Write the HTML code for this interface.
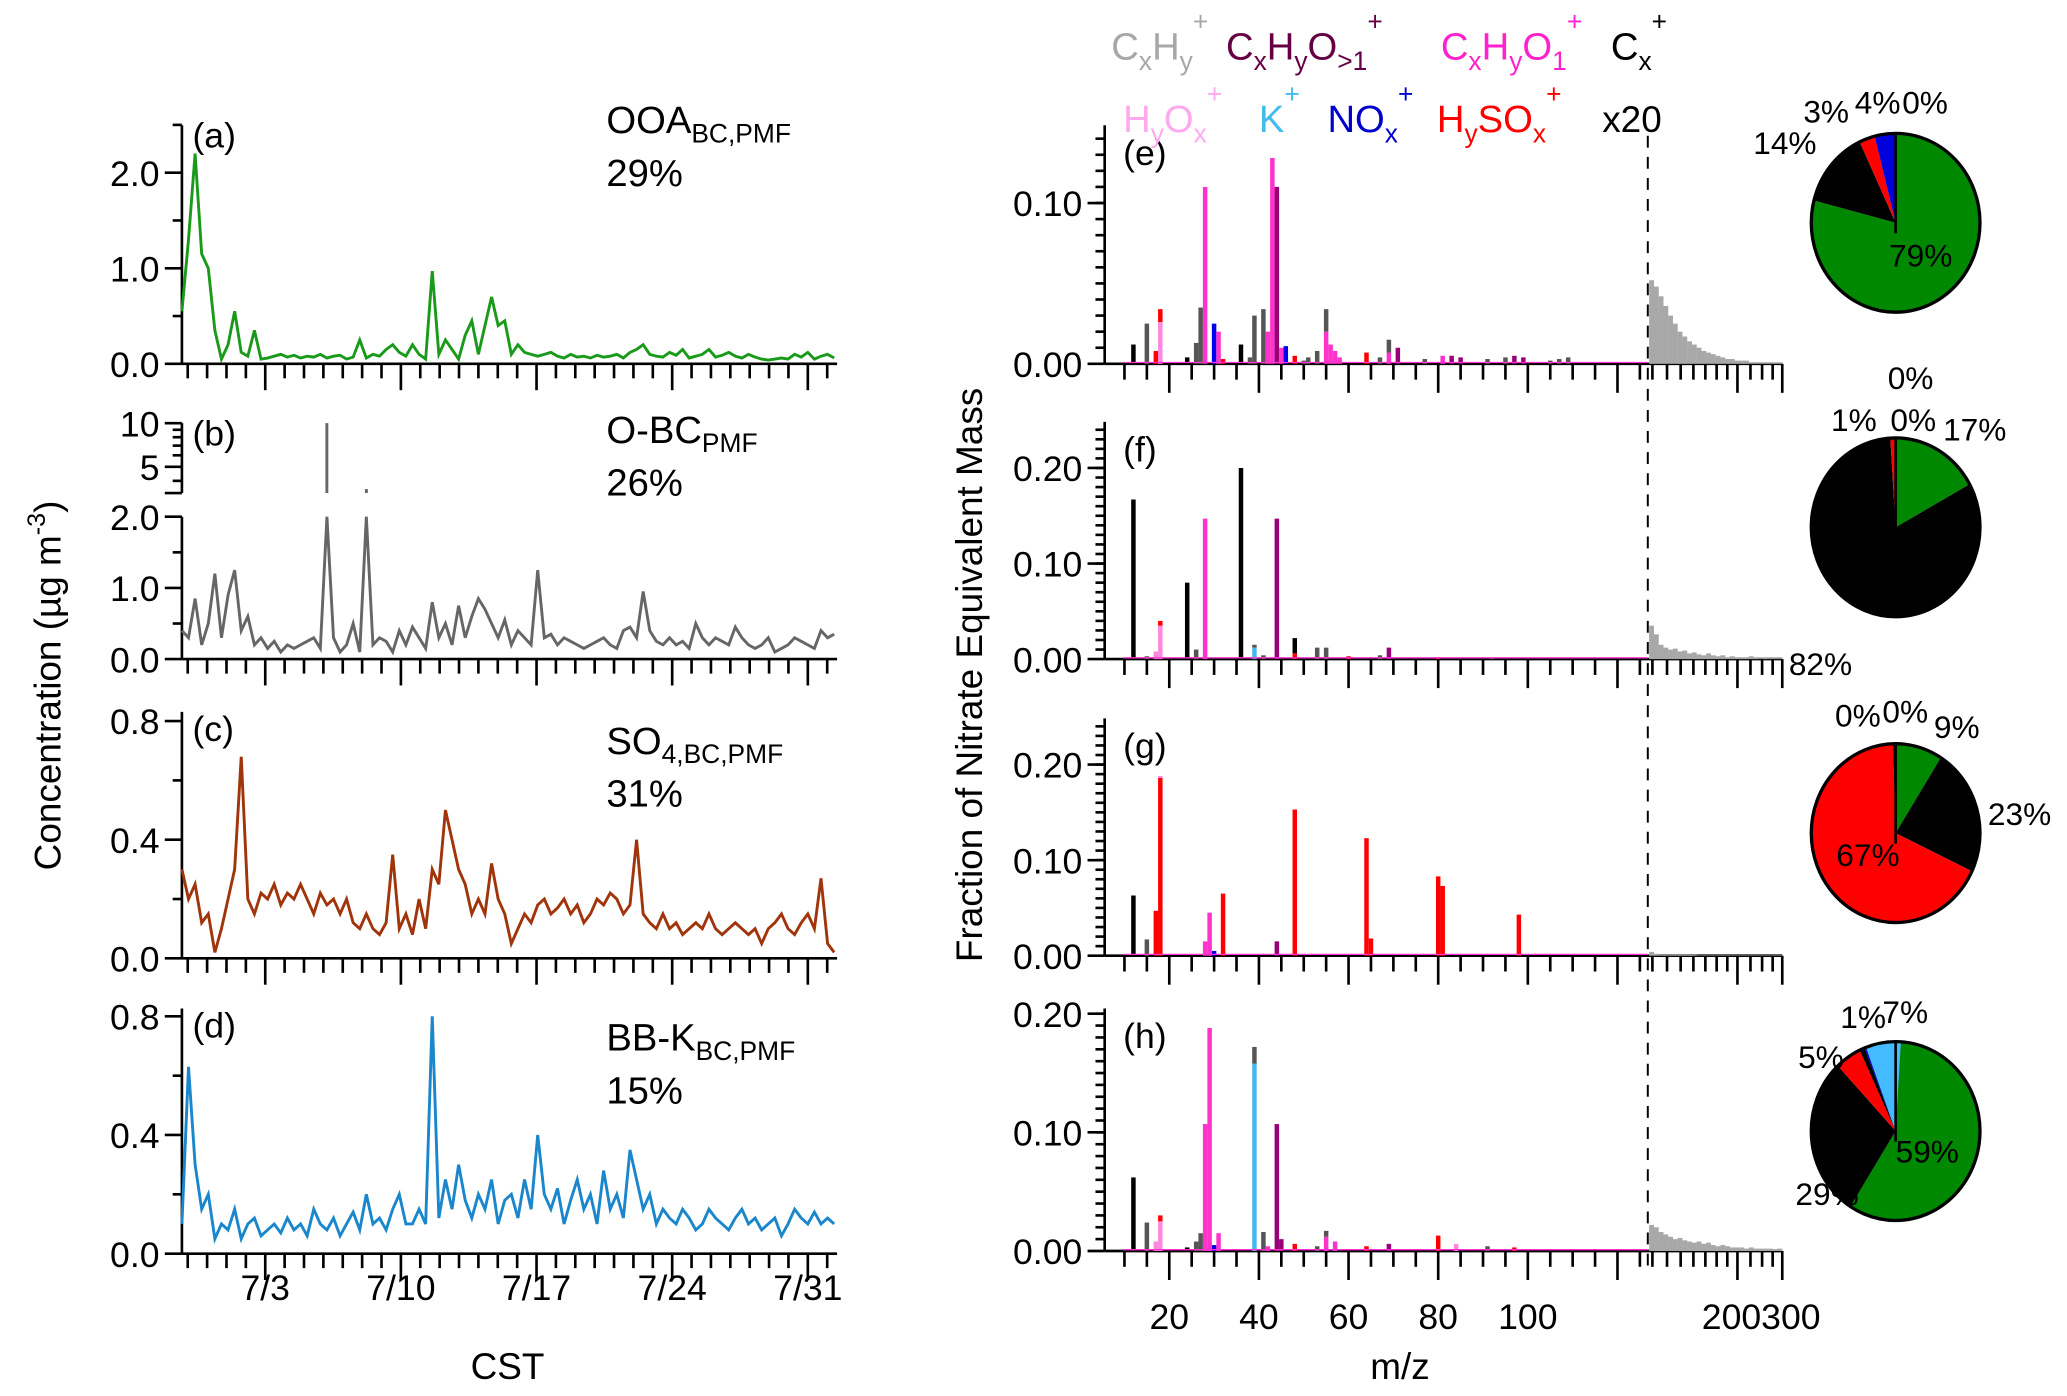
<!DOCTYPE html>
<html><head><meta charset="utf-8"><style>
html,body{margin:0;padding:0;background:#fff;}
svg{display:block;}
text{font-family:"Liberation Sans",Arial,sans-serif;}
</style></head><body>
<svg id="fig" width="2067" height="1396" viewBox="0 0 1568 1059" preserveAspectRatio="none" xmlns="http://www.w3.org/2000/svg">
<g id="root"></g>
</svg>
<script>
// ---------- Time series data (left panels) ----------
const tsStartDay = -2.3;   // days relative to 7/1 00:00
const tsStep = 0.34;       // days per sample
const dateLabels = ["7/3","7/10","7/17","7/24","7/31"];
const dateLabelDays = [2,9,16,23,30];
const seriesA = [0.55,1.3,2.2,1.15,1.0,0.35,0.05,0.2,0.55,0.12,0.08,0.35,0.05,0.06,0.08,0.1,0.07,0.09,0.06,0.08,0.07,0.1,0.06,0.08,0.09,0.05,0.07,0.25,0.06,0.1,0.08,0.15,0.2,0.12,0.08,0.2,0.1,0.05,0.97,0.1,0.25,0.15,0.05,0.3,0.45,0.1,0.4,0.7,0.4,0.45,0.1,0.2,0.12,0.1,0.08,0.1,0.12,0.08,0.06,0.1,0.07,0.08,0.06,0.09,0.07,0.08,0.1,0.06,0.12,0.15,0.2,0.1,0.08,0.07,0.12,0.09,0.15,0.06,0.08,0.1,0.15,0.07,0.09,0.12,0.08,0.06,0.1,0.07,0.05,0.04,0.05,0.06,0.05,0.1,0.07,0.12,0.05,0.08,0.1,0.06];
const seriesB = [0.4,0.3,0.85,0.2,0.5,1.2,0.3,0.9,1.25,0.4,0.6,0.2,0.3,0.15,0.25,0.1,0.2,0.15,0.2,0.25,0.3,0.15,10,0.3,0.1,0.2,0.5,0.1,3,0.2,0.3,0.25,0.1,0.4,0.2,0.45,0.3,0.15,0.8,0.3,0.5,0.2,0.75,0.3,0.6,0.85,0.7,0.5,0.3,0.55,0.2,0.4,0.3,0.2,1.25,0.3,0.35,0.2,0.3,0.25,0.2,0.15,0.2,0.25,0.3,0.2,0.15,0.4,0.45,0.3,0.95,0.4,0.25,0.2,0.3,0.2,0.25,0.15,0.5,0.3,0.2,0.3,0.25,0.2,0.45,0.3,0.2,0.15,0.2,0.3,0.1,0.15,0.2,0.3,0.25,0.2,0.15,0.4,0.3,0.35];
const seriesC = [0.3,0.2,0.25,0.12,0.15,0.02,0.1,0.2,0.3,0.68,0.2,0.15,0.22,0.2,0.25,0.18,0.22,0.2,0.25,0.2,0.15,0.22,0.18,0.2,0.15,0.2,0.12,0.1,0.15,0.1,0.08,0.12,0.35,0.1,0.15,0.08,0.2,0.1,0.3,0.25,0.5,0.4,0.3,0.25,0.15,0.2,0.15,0.32,0.2,0.15,0.05,0.1,0.15,0.12,0.18,0.2,0.15,0.17,0.2,0.15,0.18,0.12,0.15,0.2,0.18,0.22,0.2,0.15,0.18,0.4,0.15,0.12,0.1,0.15,0.1,0.12,0.08,0.1,0.12,0.1,0.15,0.1,0.08,0.1,0.12,0.1,0.08,0.1,0.05,0.1,0.12,0.15,0.1,0.08,0.12,0.15,0.1,0.27,0.05,0.02];
const seriesD = [0.1,0.63,0.3,0.15,0.2,0.05,0.1,0.08,0.15,0.05,0.1,0.12,0.06,0.08,0.1,0.07,0.12,0.08,0.1,0.06,0.15,0.1,0.08,0.12,0.06,0.1,0.14,0.08,0.2,0.1,0.12,0.08,0.15,0.2,0.1,0.1,0.15,0.1,0.8,0.12,0.25,0.15,0.3,0.18,0.12,0.2,0.15,0.25,0.1,0.18,0.2,0.12,0.25,0.15,0.4,0.2,0.15,0.22,0.1,0.18,0.25,0.15,0.2,0.1,0.28,0.15,0.2,0.12,0.35,0.25,0.15,0.2,0.1,0.15,0.12,0.1,0.15,0.12,0.08,0.1,0.15,0.12,0.1,0.08,0.12,0.15,0.1,0.12,0.08,0.1,0.12,0.06,0.1,0.15,0.12,0.1,0.14,0.1,0.12,0.1];

// ---------- Mass spectra data (right panels): [m/z, category, value] ----------
const specE = [[12,"cx",0.012],[15,"cxhy",0.025],[17,"hso",0.008],[18,"hox",0.026],[18,"hso",0.008],[24,"cx",0.004],[26,"cxhy",0.013],[27,"cxhy",0.035],[28,"o1",0.11],[30,"nox",0.025],[31,"o1",0.02],[32,"hso",0.003],[36,"cx",0.012],[38,"cxhy",0.004],[39,"cxhy",0.03],[41,"cxhy",0.034],[42,"o1",0.02],[43,"o1",0.128],[44,"o2",0.11],[45,"o1",0.01],[46,"nox",0.011],[48,"hso",0.005],[50,"cxhy",0.002],[51,"cxhy",0.004],[53,"cxhy",0.008],[55,"o1",0.02],[55,"cxhy",0.014],[56,"o1",0.012],[57,"o1",0.008],[58,"o1",0.004],[64,"hso",0.007],[67,"cxhy",0.004],[69,"o1",0.007],[69,"cxhy",0.008],[71,"o2",0.01],[77,"cxhy",0.003],[81,"o1",0.005],[83,"o2",0.005],[85,"o2",0.004],[91,"cxhy",0.003],[95,"cxhy",0.004],[97,"o2",0.005],[99,"o2",0.004],[105,"cxhy",0.002],[107,"cxhy",0.003],[109,"cxhy",0.004]];
const specF = [[12,"cx",0.167],[15,"cxhy",0.003],[17,"hox",0.008],[18,"hox",0.035],[18,"hso",0.005],[24,"cx",0.08],[26,"cxhy",0.01],[28,"o1",0.147],[36,"cx",0.2],[39,"k",0.012],[39,"cxhy",0.003],[41,"cxhy",0.004],[44,"o2",0.147],[48,"hso",0.006],[48,"cx",0.016],[53,"cxhy",0.012],[55,"cxhy",0.012],[69,"o2",0.012],[67,"cxhy",0.004],[60,"hso",0.003],[80,"hso",0.002],[92,"cxhy",0.002]];
const specG = [[12,"cx",0.063],[15,"cxhy",0.017],[17,"hso",0.047],[18,"hso",0.186],[18,"hox",0.002],[28,"o1",0.015],[29,"o1",0.045],[30,"nox",0.005],[32,"hso",0.065],[44,"o2",0.015],[48,"hso",0.153],[64,"hso",0.123],[65,"hso",0.018],[80,"hso",0.083],[81,"hso",0.073],[98,"hso",0.043]];
const specH = [[12,"cx",0.062],[15,"cxhy",0.024],[17,"hox",0.008],[18,"hox",0.025],[18,"hso",0.005],[24,"cx",0.003],[26,"cxhy",0.008],[27,"cxhy",0.015],[28,"o1",0.107],[29,"o1",0.188],[30,"nox",0.005],[31,"o1",0.015],[39,"k",0.158],[39,"cxhy",0.014],[41,"cxhy",0.016],[42,"o1",0.004],[44,"o2",0.107],[45,"o2",0.01],[48,"hso",0.006],[53,"cxhy",0.004],[55,"o1",0.012],[55,"cxhy",0.005],[57,"o1",0.008],[64,"hso",0.004],[69,"o2",0.006],[80,"hso",0.013],[84,"hox",0.006],[91,"cxhy",0.004],[97,"hso",0.003]];
const tailE = [0.052,0.048,0.042,0.036,0.03,0.025,0.02,0.017,0.014,0.012,0.01,0.008,0.007,0.006,0.005,0.004,0.003,0.003,0.002,0.002,0.002,0.001,0.001,0.001,0.001,0.001,0.001,0.001];
const tailF = [0.035,0.026,0.015,0.012,0.01,0.011,0.008,0.009,0.006,0.007,0.005,0.004,0.006,0.004,0.003,0.004,0.002,0.003,0.002,0.002,0.002,0.003,0.002,0.001,0.002,0.001,0.001,0.001];
const tailG = [0.004,0.002,0.001,0.001,0.001,0.001,0.001,0.001,0.001,0.001,0.0005,0.0005,0.0005,0.0005,0.0005,0.0005,0.0005,0.0005,0.0005,0.0005,0.0005,0.0005,0.0005,0.0005,0.0005,0.0005,0.0005,0.0005];
const tailH = [0.022,0.02,0.016,0.014,0.012,0.01,0.011,0.009,0.008,0.007,0.008,0.006,0.007,0.005,0.004,0.005,0.004,0.003,0.003,0.003,0.002,0.003,0.002,0.002,0.002,0.002,0.001,0.002];

// ---------- Pie data: [fraction, color] clockwise from top ----------
const pieE = [[0.79,"#008800"],[0.14,"#000"],[0.03,"#ff0000"],[0.04,"#0000dd"]];
const pieF = [[0.17,"#008800"],[0.82,"#000"],[0.01,"#ff0000"]];
const pieG = [[0.09,"#008800"],[0.23,"#000"],[0.675,"#ff0000"],[0.005,"#000"]];
const pieH = [[0.59,"#008800"],[0.29,"#000"],[0.05,"#ff0000"],[0.01,"#000"],[0.003,"#0000dd"],[0.067,"#44bbff"]];

const catColor = {cx:"#000",cxhy:"#555",o1:"#ff33cc",o2:"#990077",hox:"#ff88dd",k:"#44bbee",nox:"#0000ee",hso:"#ff0000"};

const NS="http://www.w3.org/2000/svg";
const root=document.getElementById('root');
function el(tag,attrs,parent){const e=document.createElementNS(NS,tag);for(const k in attrs)e.setAttribute(k,attrs[k]);(parent||root).appendChild(e);return e;}
function txt(x,y,s,size,parent,anchor,fill){const t=el('text',{x:x,y:y,'font-size':size,'text-anchor':anchor||'start',fill:fill||'#000'},parent);t.textContent=s;return t;}

// ---------- Left panels ----------
const LX0=138, LX1=635;
function dayX(d){return 138+(d+2.3)*14.7;}
function drawTimeAxis(yAxis,name){
  const g=el('g',{});
  
  
  el('line',{x1:LX0,y1:yAxis,x2:LX1,y2:yAxis,stroke:'#000','stroke-width':2},g);
  for(let d=-2;d<=31;d++){
    const major=dateLabelDays.indexOf(d)>=0;
    const x=dayX(d);
    el('line',{x1:x,y1:yAxis,x2:x,y2:yAxis+(major?20:11),stroke:'#000','stroke-width':2},g);
  }
  return g;
}
function drawYAxis(x,yTop,yBot,ticks,labels,yfun,minor,name){
  const g=el('g',{});
  
  
  el('line',{x1:x,y1:yTop,x2:x,y2:yBot,stroke:'#000','stroke-width':2},g);
  ticks.forEach((v,i)=>{const y=yfun(v);el('line',{x1:x-13,y1:y,x2:x,y2:y,stroke:'#000','stroke-width':2},g);
    txt(x-17,y+10,labels[i],27,g,'end');});
  minor.forEach(v=>{const y=yfun(v);el('line',{x1:x-7,y1:y,x2:x,y2:y,stroke:'#000','stroke-width':2},g);});
  return g;
}
function seriesPoints(arr,yfun){return arr.map((v,i)=>{const d=tsStartDay+tsStep*i;return dayX(d).toFixed(1)+','+yfun(v).toFixed(1);}).join(' ');}

// panel a
const yA=v=>276-v*72.5;
drawYAxis(LX0,95,276,[0,1,2],["0.0","1.0","2.0"],yA,[0.5,1.5,2.5],'y-axis-a');
drawTimeAxis(276,'x-axis-a');
let p=el('polyline',{points:seriesPoints(seriesA,yA),fill:'none',stroke:'#1a9a1a','stroke-width':2.2});

// panel b
const yBlin=v=>500-v*54;
const yBlog=v=>321-(Math.log10(v)-1)*110;
const bLogBottom=374;
drawYAxis(LX0,392,500,[0,1,2],["0.0","1.0","2.0"],yBlin,[0.5,1.5],'y-axis-b-linear');
{const g=el('g',{});
 el('line',{x1:LX0,y1:321,x2:LX0,y2:bLogBottom,stroke:'#000','stroke-width':2},g);
 [4,5,6,7,8,9,10].forEach(v=>{const y=yBlog(v);el('line',{x1:LX0-((v==5||v==10)?13:7),y1:y,x2:LX0,y2:y,stroke:'#000','stroke-width':2},g);});
 el('line',{x1:LX0-13,y1:bLogBottom,x2:LX0,y2:bLogBottom,stroke:'#000','stroke-width':2},g);
 txt(LX0-17,yBlog(10)+10,"10",27,g,'end');txt(LX0-17,yBlog(5)+10,"5",27,g,'end');}
drawTimeAxis(500,'x-axis-b');
p=el('polyline',{points:seriesPoints(seriesB.map(v=>Math.min(v,2)),yBlin),fill:'none',stroke:'#666','stroke-width':2.2});

seriesB.forEach((v,i)=>{if(v>2){const x=dayX(tsStartDay+tsStep*i);const l=el('line',{x1:x,y1:bLogBottom,x2:x,y2:Math.min(yBlog(v),bLogBottom-3),stroke:'#666','stroke-width':2.2});
  }});
// panel c
const yC=v=>727-v*225;
drawYAxis(LX0,540,727,[0,0.4,0.8],["0.0","0.4","0.8"],yC,[0.2,0.6],'y-axis-c');
drawTimeAxis(727,'x-axis-c');
p=el('polyline',{points:seriesPoints(seriesC,yC),fill:'none',stroke:'#a0340a','stroke-width':2.2});

// panel d
const yD=v=>951-v*225;
drawYAxis(LX0,765,951,[0,0.4,0.8],["0.0","0.4","0.8"],yD,[0.2,0.6],'y-axis-d');
drawTimeAxis(951,'x-axis-d');
p=el('polyline',{points:seriesPoints(seriesD,yD),fill:'none',stroke:'#1a86cc','stroke-width':2.2});

{const g=el('g',{});
 dateLabels.forEach((s,i)=>txt(dayX(dateLabelDays[i]),986,s,27,g,'middle'));}
let t=txt(385,1046,"CST",28,null,'middle');

function panelLabel(x,y,s,name){const t=txt(x,y,s,27);}
panelLabel(146,112,"(a)",'panel-label-a');panelLabel(146,338,"(b)",'panel-label-b');
panelLabel(146,562,"(c)",'panel-label-c');panelLabel(146,787,"(d)",'panel-label-d');
function factorLabel(x,y,main,sub,pct,name){const g=el('g',{});
  const t=el('text',{x:x,y:y,'font-size':29},g);const a=el('tspan',{},t);a.textContent=main;const b=el('tspan',{'font-size':20,dy:7},t);b.textContent=sub;
  txt(x,y+40,pct,29,g);}
factorLabel(460,101,"OOA","BC,PMF","29%",'factor-label-ooa');
factorLabel(460,336,"O-BC","PMF","26%",'factor-label-obc');
factorLabel(460,572,"SO","4,BC,PMF","31%",'factor-label-so4');
factorLabel(460,797,"BB-K","BC,PMF","15%",'factor-label-bbk');
t=el('text',{transform:'translate(46,520) rotate(-90)','font-size':28,'text-anchor':'middle'});

{const a=el('tspan',{},t);a.textContent="Concentration (µg m";const b=el('tspan',{'font-size':19,dy:-12},t);b.textContent="-3";const c=el('tspan',{dy:12},t);c.textContent=")";}

// ---------- Right panels ----------
const RX0=838, DASH=1250, RX1=1352;
const mzX=m=>887+(m-20)*3.4;
const tailX=i=>DASH+1+i*3.6;
const hiTicks=[[130,0],[140,0],[150,0],[160,0],[170,0],[180,0],[190,0],[200,1],[225,0],[250,0],[275,0],[300,1]];
const hiTickX=m=>m<=200?DASH+(Math.log(m)-Math.log(127))/(Math.log(200)-Math.log(127))*68:1318+(Math.log(m)-Math.log(200))/(Math.log(300)-Math.log(200))*34;
function drawSpecPanel(y0,scale,yticks,ylabels,yTop,spec,tail,label,lname){
  const yf=v=>y0-v*scale;
  drawYAxis(RX0,yTop,y0,yticks,ylabels,yf,(function(){const a=[];const step=(yticks[1]-yticks[0])/10;for(let v=step;yf(v)>=yTop-0.5;v+=step){a.push(v);}return a;})(),'y-axis-'+lname);
  const g=el('g',{});
  el('line',{x1:RX0,y1:y0,x2:RX1,y2:y0,stroke:'#000','stroke-width':2},g);
  for(let m=10;m<=125;m+=5){const x=mzX(m);el('line',{x1:x,y1:y0,x2:x,y2:y0+(m%20==0?22:12),stroke:'#000','stroke-width':2},g);}
  hiTicks.forEach(([m,maj])=>{const x=hiTickX(m);el('line',{x1:x,y1:y0,x2:x,y2:y0+(maj?22:12),stroke:'#000','stroke-width':2},g);});
  const bars=el('g',{});
  const base={};
  spec.forEach(([m,c,v])=>{const b=base[m]||0;const r=el('rect',{x:mzX(m)-1.7,y:yf(b+v),width:3.4,height:Math.max(v*scale,0.5),fill:catColor[c]},bars);base[m]=b+v;
    });
  el('line',{x1:RX0+14,y1:y0-1,x2:DASH,y2:y0-1,stroke:'#ff33cc','stroke-width':1},bars);
  tail.forEach((v,i)=>{const r=el('rect',{x:tailX(i),y:yf(v),width:3.7,height:v*scale,fill:'#a8a8a8'},bars);
    });
  panelLabel(RX0+14,yTop+30,label,'panel-label-'+lname);
}
drawSpecPanel(276,1220,[0,0.1],["0.00","0.10"],95,specE,tailE,"(e)",'e');
drawSpecPanel(500,725,[0,0.1,0.2],["0.00","0.10","0.20"],320,specF,tailF,"(f)",'f');
drawSpecPanel(725,725,[0,0.1,0.2],["0.00","0.10","0.20"],545,specG,tailG,"(g)",'g');
drawSpecPanel(949,900,[0,0.1,0.2],["0.00","0.10","0.20"],765,specH,tailH,"(h)",'h');
let dl=el('line',{x1:DASH,y1:103,x2:DASH,y2:960,stroke:'#000','stroke-width':1.5,'stroke-dasharray':'9,7'});

{const g=el('g',{});
 [20,40,60,80,100].forEach(m=>txt(mzX(m),1008,String(m),27,g,'middle'));
 txt(1336,1008,"200",27,g,'end');txt(1336,1008,"300",27,g,'start');}
t=txt(1062,1046,"m/z",28,null,'middle');
t=txt(1238,100,"x20",28,null,'middle');
t=el('text',{transform:'translate(745,512) rotate(-90)','font-size':28,'text-anchor':'middle'});t.textContent="Fraction of Nitrate Equivalent Mass";


// legend: parts [text, kind] kind: undefined=normal, 'sub', 'sup'
function legend(x,y,parts,color,name){const t=el('text',{x:x,y:y,'font-size':29,fill:color});
  let off=0;
  parts.forEach(([s,k])=>{const ts=el('tspan',{},t);ts.textContent=s;
    let target=0;
    if(k=='sub'){ts.setAttribute('font-size',20);target=8;}
    else if(k=='sup'){ts.setAttribute('font-size',20);target=-22;}
    ts.setAttribute('dy',target-off);off=target;});}
legend(843,45,[["C"],["x","sub"],["H"],["y","sub"],["+","sup"]],"#a8a8a8",'legend-cxhy');
legend(930,45,[["C"],["x","sub"],["H"],["y","sub"],["O"],[">1","sub"],["+","sup"]],"#660044",'legend-cxhyo-gt1');
legend(1093,45,[["C"],["x","sub"],["H"],["y","sub"],["O"],["1","sub"],["+","sup"]],"#ff22cc",'legend-cxhyo1');
legend(1222,45,[["C"],["x","sub"],["+","sup"]],"#000",'legend-cx');
legend(852,100,[["H"],["y","sub"],["O"],["x","sub"],["+","sup"]],"#ffaaee",'legend-hyox');
legend(955,100,[["K"],["+","sup"]],"#44bbee",'legend-k');
legend(1007,100,[["NO"],["x","sub"],["+","sup"]],"#0000cc",'legend-nox');
legend(1090,100,[["H"],["y","sub"],["SO"],["x","sub"],["+","sup"]],"#ff0000",'legend-hysox');

// pies
function drawPie(cx,cy,r,data,name,labels){
  const g=el('g',{});
  let a0=0;
  const ry=r*1.06;
  data.forEach(([f,c])=>{const a1=a0+f*2*Math.PI;
    const x0=cx+r*Math.sin(a0),y0=cy-ry*Math.cos(a0),x1=cx+r*Math.sin(a1),y1=cy-ry*Math.cos(a1);
    const s=el('path',{d:`M${cx},${cy}L${x0.toFixed(2)},${y0.toFixed(2)}A${r},${ry} 0 ${f>0.5?1:0} 1 ${x1.toFixed(2)},${y1.toFixed(2)}Z`,fill:c},g);
    a0=a1;});
  el('ellipse',{cx:cx,cy:cy,rx:r,ry:ry,fill:'none',stroke:'#000','stroke-width':2.5},g);
  el('line',{x1:cx,y1:cy-ry,x2:cx,y2:cy+8,stroke:'#000','stroke-width':2},g);
  labels.forEach(([s,x,y])=>txt(x,y,s,24,g));
}
drawPie(1438,169,64,pieE,'pie-e',[["14%",1330,117],["3%",1368,93],["4%",1407,86],["0%",1443,86],["79%",1433,202]]);
drawPie(1438,400,64,pieF,'pie-f',[["0%",1432,295],["1%",1389,327],["0%",1434,327],["17%",1474,334],["82%",1357,512]]);
drawPie(1438,632,64,pieG,'pie-g',[["0%",1392,551],["0%",1428,548],["9%",1467,560],["23%",1508,626],["67%",1393,657]]);
drawPie(1438,858,64,pieH,'pie-h',[["1%",1396,780],["7%",1428,776],["5%",1364,810],["59%",1438,882],["29%",1362,914]]);
</script>
</body></html>
